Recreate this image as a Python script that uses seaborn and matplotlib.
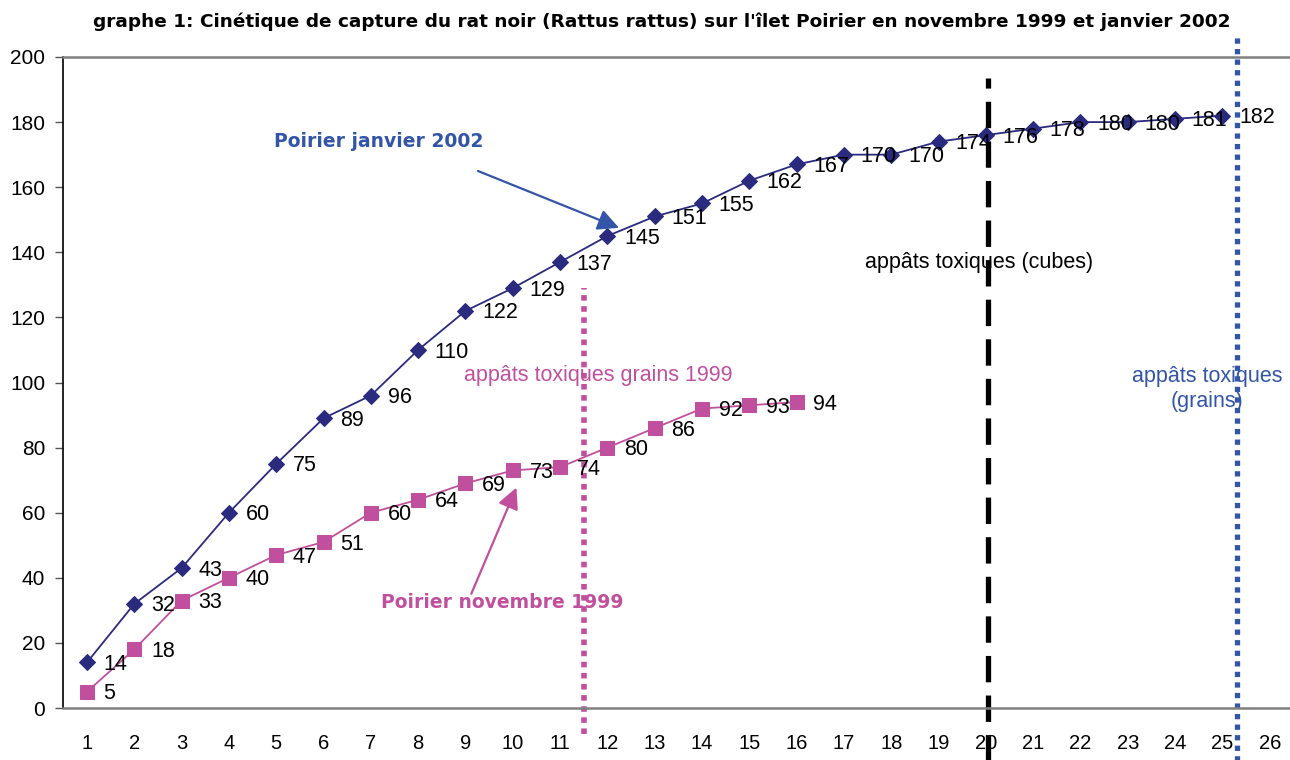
import matplotlib
matplotlib.use('Agg')
import matplotlib.pyplot as plt
import seaborn as sns
import pandas as pd

# ─── Data ─────────────────────────────────────────────────────────────────────
sessions_2002 = list(range(1, 26))
captures_2002 = [14, 32, 43, 60, 75, 89, 96, 110, 122, 129, 137, 145, 151, 155,
                 162, 167, 170, 170, 174, 176, 178, 180, 180, 181, 182]
sessions_1999 = list(range(1, 17))
captures_1999 = [5, 18, 33, 40, 47, 51, 60, 64, 69, 73, 74, 80, 86, 92, 93, 94]
x_ticks = list(range(1, 27))
y_ticks = list(range(0, 201, 20))

TITLE = ("graphe 1: Cinétique de capture du rat noir (Rattus rattus) sur l'îlet "
         "Poirier en novembre 1999 et janvier 2002")

NAVY = "#2a2a7e"
MAG  = "#c0509e"
BLUE = "#3355a8"

df02 = pd.DataFrame({"session": sessions_2002, "captures": captures_2002})
df99 = pd.DataFrame({"session": sessions_1999, "captures": captures_1999})

sns.set_style("white")
plt.rcParams["font.family"] = ["Liberation Sans", "DejaVu Sans"]
plt.rcParams.update({"text.color": "black", "xtick.color": "black",
                     "ytick.color": "black", "axes.labelcolor": "black"})

fig = plt.figure(figsize=(12.9, 7.6), dpi=100)
ax = fig.add_axes([0.0491, 0.0684, 0.9535, 0.8566])

sns.lineplot(data=df02, x="session", y="captures", ax=ax, color=NAVY,
             marker="D", markersize=8, markeredgecolor=NAVY, linewidth=1.3)
sns.lineplot(data=df99, x="session", y="captures", ax=ax, color=MAG,
             marker="s", markersize=10, markeredgecolor=MAG, linewidth=1.3)

# data labels to the right of each point
for xs, ys in ((sessions_2002, captures_2002), (sessions_1999, captures_1999)):
    for xv, yv in zip(xs, ys):
        ax.annotate(str(yv), (xv, yv), xytext=(12, -1.5), textcoords="offset points",
                    ha="left", va="center", fontsize=15.5, color="black")

# ─── Axes ─────────────────────────────────────────────────────────────────────
ax.set_xlim(0.5, 26.5)
ax.set_ylim(0, 200)
ax.set_xticks(x_ticks)
ax.set_xticks([t + 0.5 for t in [0] + x_ticks], minor=True)
ax.set_yticks(y_ticks)
ax.tick_params(axis="x", which="major", length=0, pad=19, labelsize=14.5)
ax.tick_params(axis="x", which="minor", length=5, width=1, color="#555555",
               direction="out")
ax.tick_params(axis="y", length=6, width=1, color="#555555", direction="out",
               pad=7, labelsize=15, left=True)
ax.set_xlabel("")
ax.set_ylabel("")
for side in ("top", "bottom"):
    ax.spines[side].set_color("#808080")
    ax.spines[side].set_linewidth(1.8)
ax.spines["left"].set_color("black")
ax.spines["left"].set_linewidth(1.2)
ax.spines["right"].set_visible(False)

# ─── Bait markers ─────────────────────────────────────────────────────────────
ax.plot([11.5, 11.5], [-8, 129], color=MAG, lw=4, ls=(0, (1, 1)), clip_on=False)
ax.plot([20.05, 20.05], [-17, 193.5], color="black", lw=3.8, ls=(0, (5, 2.5)),
        clip_on=False)
ax.plot([25.3, 25.3], [-17, 207], color=BLUE, lw=3.8, ls=(0, (1, 1)), clip_on=False)

ax.text(11.8, 102, "appâts toxiques grains 1999", color=MAG, fontsize=15.5,
        ha="center", va="center")
ax.text(19.86, 137, "appâts toxiques (cubes)", color="black", fontsize=15.5,
        ha="center", va="center")
ax.text(24.67, 98, "appâts toxiques\n(grains)", color=BLUE, fontsize=15.5,
        ha="center", va="center", linespacing=1.3)

bold = ["DejaVu Sans"]
ax.annotate("", xy=(12.3, 147.2), xytext=(9.21, 165.3),
            arrowprops=dict(arrowstyle="-|>", color=BLUE, lw=1.6, mutation_scale=32))
ax.text(7.16, 174, "Poirier janvier 2002", color=BLUE, fontsize=13.5,
        fontweight="bold", ha="center", va="center", family=bold)
ax.annotate("", xy=(10.1, 68.5), xytext=(9.1, 34.3),
            arrowprops=dict(arrowstyle="-|>", color=MAG, lw=1.6, mutation_scale=32))
ax.text(9.78, 32.3, "Poirier novembre 1999", color=MAG, fontsize=13.5,
        fontweight="bold", ha="center", va="center", family=bold)

fig.text(0.513, 0.971, TITLE, fontsize=13.3, fontweight="bold", ha="center",
         va="center", family=bold)

plt.savefig("out.png", dpi=100)
plt.close()
